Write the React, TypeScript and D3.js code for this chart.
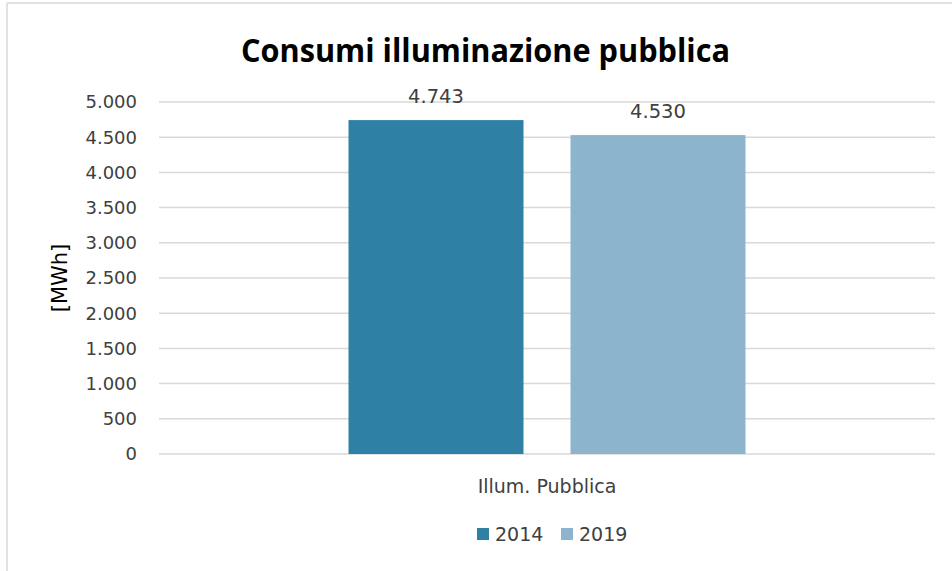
import React from "react";
import * as d3 from "d3";

const categories = ["Illum. Pubblica"];
const seriesNames = ["2014", "2019"];
const values2014 = [4743];
const values2019 = [4530];
const seriesColors = ["#2E80A5", "#8CB4CD"];
const yTicks = [0, 500, 1000, 1500, 2000, 2500, 3000, 3500, 4000, 4500, 5000];
const title = "Consumi illuminazione pubblica";
const yTitle = "[MWh]";

const fmt = (v: number) => d3.format(",")(v).replace(/,/g, ".");

export default function App() {
  const W = 952, H = 571;
  const plotLeft = 159, plotRight = 935, plotTop = 102, plotBottom = 454;
  const y = d3.scaleLinear().domain([0, 5000]).range([plotBottom, plotTop]);
  const x = d3.scaleBand().domain(categories).range([plotLeft, plotRight]).paddingInner(0.3231).paddingOuter(0.3231);
  const xs = d3.scaleBand().domain(seriesNames).range([0, x.bandwidth()]).paddingInner(0.2117).paddingOuter(0);
  const series = [values2014, values2019];
  const font = "'DejaVu Sans', sans-serif";
  return (
    <svg width={W} height={H} style={{ position: "absolute", left: 0, top: 0, background: "#fff" }}>
      <line x1={7} x2={7} y1={3} y2={H} stroke="#d9d9d9" strokeWidth={1.5} />
      <line x1={7} x2={W} y1={3} y2={3} stroke="#d9d9d9" strokeWidth={1.5} />
      <text x={485.5} y={62} textAnchor="middle" fontFamily="'Open Sans', sans-serif" fontWeight="bold" fontSize={33} fill="#000" textLength={489} lengthAdjust="spacingAndGlyphs">{title}</text>
      {yTicks.map((t) => (
        <g key={t}>
          <line x1={plotLeft} x2={plotRight} y1={y(t)} y2={y(t)} stroke="#d9d9d9" strokeWidth={1.5} />
          <text x={137} y={y(t)} dy="0.36em" textAnchor="end" fontFamily={font} fontSize={18} fill="#404040">{fmt(t)}</text>
        </g>
      ))}
      <text transform={`translate(59,278) rotate(-90)`} textAnchor="middle" dy="0.36em" fontFamily={font} fontSize={21} fill="#000">{yTitle}</text>
      {categories.map((c, ci) => (
        <g key={c}>
          {seriesNames.map((s, si) => {
            const v = series[si][ci];
            const bx = (x(c) as number) + (xs(s) as number);
            return (
              <g key={s}>
                <rect x={bx} y={y(v)} width={xs.bandwidth()} height={plotBottom - y(v)} fill={seriesColors[si]} />
                <text x={bx + xs.bandwidth() / 2} y={y(v) - 17} textAnchor="middle" fontFamily={font} fontSize={19.5} fill="#404040">{fmt(v)}</text>
              </g>
            );
          })}
          <text x={(x(c) as number) + x.bandwidth() / 2} y={493} textAnchor="middle" fontFamily={font} fontSize={19} fill="#404040">{c}</text>
        </g>
      ))}
      {seriesNames.map((s, i) => {
        const lx = 477 + i * 84;
        return (
          <g key={s}>
            <rect x={lx} y={528} width={12} height={12} fill={seriesColors[i]} />
            <text x={lx + 18} y={541} fontFamily={font} fontSize={19} fill="#404040">{s}</text>
          </g>
        );
      })}
    </svg>
  );
}
